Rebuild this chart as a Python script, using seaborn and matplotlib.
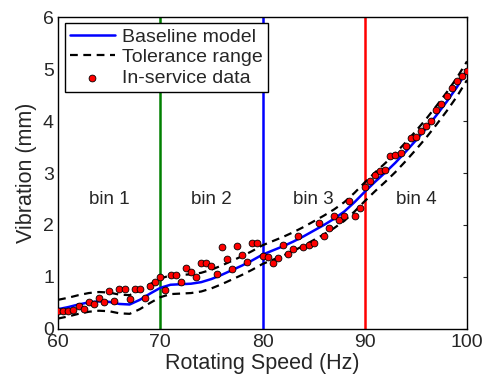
import numpy as np
import pandas as pd
import seaborn as sns
import matplotlib.pyplot as plt

# in-service measurements, one every 0.5 Hz
speed = np.arange(60, 100.5, 0.5)
vibration = [0.35, 0.35, 0.35, 0.37, 0.45, 0.38, 0.51, 0.47, 0.59, 0.52,
             0.72, 0.54, 0.77, 0.77, 0.57, 0.77, 0.77, 0.59, 0.83, 0.90,
             1.00, 0.75, 1.04, 1.04, 0.90, 1.17, 1.10, 1.00, 1.27, 1.26,
             1.21, 1.06, 1.57, 1.35, 1.15, 1.60, 1.42, 1.28, 1.66, 1.66,
             1.40, 1.38, 1.26, 1.36, 1.61, 1.45, 1.53, 1.79, 1.57, 1.62,
             1.66, 2.04, 1.79, 1.94, 2.18, 2.10, 2.18, 2.46, 2.17, 2.32,
             2.74, 2.84, 2.96, 3.03, 3.05, 3.33, 3.35, 3.38, 3.53, 3.68,
             3.70, 3.80, 3.90, 4.01, 4.21, 4.33, 4.48, 4.63, 4.78, 4.87,
             4.96]

# baseline model, one value per Hz
model_speed = np.arange(60, 101, 1)
baseline = [0.38, 0.42, 0.47, 0.51, 0.53, 0.52, 0.48, 0.47, 0.56, 0.68,
            0.79, 0.85, 0.86, 0.87, 0.90, 0.96, 1.04, 1.13, 1.22, 1.32,
            1.43, 1.51, 1.59, 1.68, 1.78, 1.89, 2.00, 2.12, 2.26, 2.44,
            2.64, 2.83, 3.01, 3.20, 3.41, 3.63, 3.86, 4.11, 4.37, 4.65,
            4.97]
tolerance = 0.18

bin_edges = [70, 80, 90]
bin_colors = ['#008000', '#0000ff', '#ff0000']
bin_labels = ['bin 1', 'bin 2', 'bin 3', 'bin 4']
bin_centers = [65, 75, 85, 95]

data = pd.DataFrame({'speed': speed, 'vibration': vibration})
model = pd.DataFrame({'speed': model_speed, 'baseline': baseline})
model['upper'] = model['baseline'] + tolerance
model['lower'] = model['baseline'] - tolerance

sns.set_style('white')
plt.rcParams['font.family'] = ['Liberation Sans', 'DejaVu Sans']

fig, ax = plt.subplots(figsize=(4.88, 3.82), dpi=100)

for x, c in zip(bin_edges, bin_colors):
    ax.axvline(x, color=c, linewidth=1.8, zorder=1)

sns.lineplot(data=model, x='speed', y='baseline', color='#0000ff',
             linewidth=1.8, ax=ax, label='Baseline model', zorder=2)
sns.lineplot(data=model, x='speed', y='upper', color='black', linewidth=1.6,
             linestyle=(0, (3.5, 2.5)), ax=ax, label='Tolerance range', zorder=3)
sns.lineplot(data=model, x='speed', y='lower', color='black', linewidth=1.6,
             linestyle=(0, (3.5, 2.5)), ax=ax, zorder=3)
sns.scatterplot(data=data, x='speed', y='vibration', color='red',
                edgecolor='black', linewidth=0.6, s=24, ax=ax,
                label='In-service data', zorder=4)

for x, t in zip(bin_centers, bin_labels):
    ax.text(x, 2.5, t, ha='center', va='center', fontsize=13.5)

ax.set_xlim(60, 100)
ax.set_ylim(0, 6)
ax.set_xticks([60, 70, 80, 90, 100])
ax.set_yticks([0, 1, 2, 3, 4, 5, 6])
ax.set_xlabel('Rotating Speed (Hz)', fontsize=15.5, labelpad=1)
ax.set_ylabel('Vibration (mm)', fontsize=15.5, labelpad=4)
ax.tick_params(direction='in', length=3, width=0.8, labelsize=14,
               top=True, right=True)
ax.tick_params(axis='x', pad=4)
ax.tick_params(axis='y', pad=3)
for s in ax.spines.values():
    s.set_color('black')
    s.set_linewidth(1.0)

leg = ax.legend(loc='upper left', bbox_to_anchor=(0.017, 0.981),
                borderaxespad=0, fontsize=14, frameon=True, fancybox=False,
                edgecolor='black', framealpha=1, handlelength=2.3,
                labelspacing=0.15, borderpad=0.25, handletextpad=0.4)
leg.get_frame().set_linewidth(1.0)

fig.subplots_adjust(left=0.119, right=0.957, bottom=0.139, top=0.955)
fig.savefig('out.png', dpi=100)
